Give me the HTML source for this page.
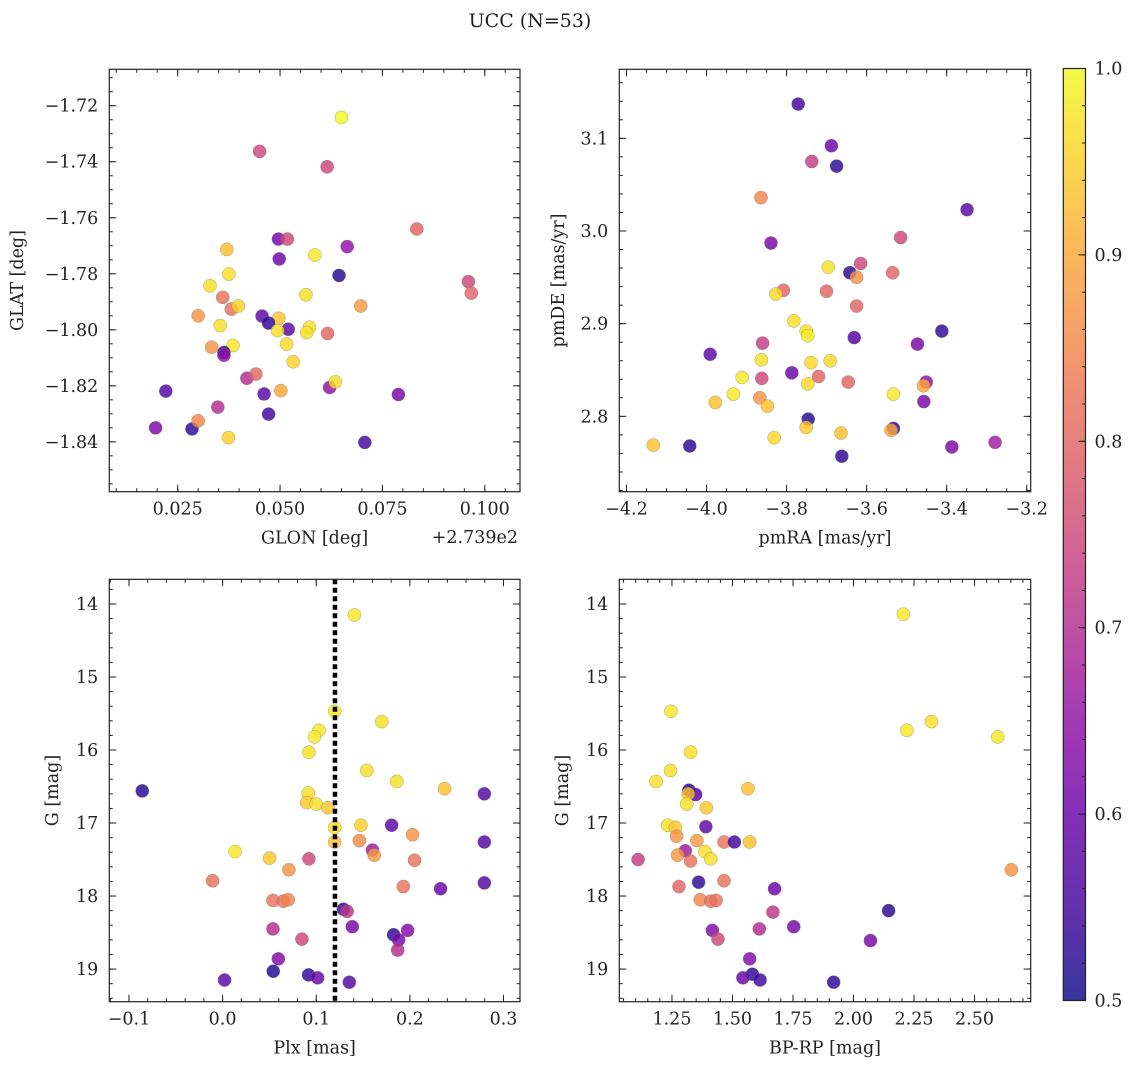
<!DOCTYPE html>
<html><head><meta charset="utf-8">
<style>
html,body{margin:0;padding:0;background:#fff;}
svg text{font-family:"DejaVu Serif","Liberation Serif",serif;fill:#222;}
</style></head>
<body>
<svg id="fig" width="1136" height="1068" viewBox="0 0 1136 1068" xmlns="http://www.w3.org/2000/svg">
<defs>
<linearGradient id="plasma" x1="0" y1="1" x2="0" y2="0">
<stop offset="0" stop-color="#0d0887"/><stop offset="0.1" stop-color="#41049d"/><stop offset="0.2" stop-color="#6a00a8"/><stop offset="0.3" stop-color="#8f0da4"/><stop offset="0.4" stop-color="#b12a90"/><stop offset="0.5" stop-color="#cc4778"/><stop offset="0.6" stop-color="#e16462"/><stop offset="0.7" stop-color="#f2844b"/><stop offset="0.8" stop-color="#fca636"/><stop offset="0.9" stop-color="#fcce25"/><stop offset="1" stop-color="#f0f921"/>
</linearGradient>
</defs>
<text x="530" y="27" text-anchor="middle" font-size="19">UCC (N=53)</text>
</svg>
<script>
// ---- Panel 1: GLON vs GLAT ----
const glonVals=[0.0650,0.0450,0.0615,0.0834,0.0496,0.0518,0.0370,0.0664,0.0585,0.0498,0.0375,0.0644,0.0329,0.0960,0.0967,0.0563,0.0360,0.0381,0.0398,0.0697,0.0300,0.0456,0.0497,0.0472,0.0354,0.0520,0.0494,0.0572,0.0565,0.0616,0.0333,0.0385,0.0516,0.0363,0.0363,0.0532,0.0419,0.0441,0.0221,0.0461,0.0502,0.0621,0.0635,0.0789,0.0348,0.0472,0.0196,0.0285,0.0300,0.0374,0.0707];
const glatVals=[-1.7242,-1.7363,-1.7418,-1.7640,-1.7676,-1.7676,-1.7713,-1.7703,-1.7733,-1.7747,-1.7801,-1.7806,-1.7843,-1.7828,-1.7869,-1.7875,-1.7884,-1.7926,-1.7915,-1.7915,-1.7950,-1.7951,-1.7959,-1.7976,-1.7985,-1.7998,-1.8003,-1.7991,-1.8010,-1.8013,-1.8062,-1.8056,-1.8051,-1.8081,-1.8091,-1.8114,-1.8173,-1.8158,-1.8219,-1.8229,-1.8217,-1.8206,-1.8186,-1.8231,-1.8276,-1.8301,-1.8350,-1.8354,-1.8325,-1.8385,-1.8402];
const p1Col=[1.0,0.75,0.75,0.8,0.62,0.75,0.93,0.65,0.98,0.6,0.97,0.52,0.97,0.75,0.8,0.97,0.82,0.82,0.95,0.88,0.87,0.58,0.93,0.53,0.97,0.58,0.97,0.97,0.97,0.8,0.87,0.98,0.96,0.52,0.65,0.95,0.7,0.8,0.57,0.58,0.9,0.65,0.97,0.62,0.7,0.55,0.62,0.53,0.85,0.95,0.55];
const p1XTicks=[0.025,0.050,0.075,0.100];
const p1XLabels=["0.025","0.050","0.075","0.100"];
const p1YTicks=[-1.72,-1.74,-1.76,-1.78,-1.80,-1.82,-1.84];
const p1YLabels=["\u22121.72","\u22121.74","\u22121.76","\u22121.78","\u22121.80","\u22121.82","\u22121.84"];
// ---- Panel 2: pmRA vs pmDE ----
const pmraVals=[-3.771,-3.688,-3.737,-3.675,-3.864,-3.349,-3.839,-3.515,-3.696,-3.615,-3.642,-3.625,-3.535,-3.808,-3.827,-3.700,-3.625,-3.782,-3.751,-3.747,-3.412,-3.631,-3.473,-3.991,-3.860,-3.863,-3.739,-3.691,-3.787,-3.720,-3.911,-3.862,-3.747,-3.646,-3.451,-3.458,-3.933,-3.533,-3.867,-3.978,-3.848,-3.457,-3.746,-3.751,-3.533,-3.539,-3.664,-3.831,-4.133,-4.042,-3.279,-3.387,-3.662];
const pmdeVals=[3.137,3.092,3.075,3.070,3.036,3.023,2.987,2.993,2.961,2.965,2.955,2.950,2.955,2.936,2.932,2.935,2.919,2.903,2.892,2.887,2.892,2.885,2.878,2.867,2.879,2.861,2.858,2.860,2.847,2.843,2.842,2.841,2.835,2.837,2.837,2.833,2.824,2.824,2.820,2.815,2.811,2.816,2.797,2.788,2.787,2.785,2.782,2.777,2.769,2.768,2.772,2.767,2.757];
const p2Col=[0.55,0.6,0.73,0.53,0.85,0.58,0.62,0.75,0.97,0.75,0.53,0.87,0.8,0.8,0.96,0.8,0.8,0.97,0.97,0.98,0.53,0.57,0.62,0.58,0.73,0.97,0.96,0.96,0.6,0.8,0.98,0.75,0.96,0.8,0.65,0.9,0.98,0.98,0.87,0.93,0.93,0.62,0.52,0.94,0.53,0.9,0.93,0.96,0.93,0.53,0.67,0.62,0.53];
const p2XTicks=[-4.2,-4.0,-3.8,-3.6,-3.4,-3.2];
const p2XLabels=["\u22124.2","\u22124.0","\u22123.8","\u22123.6","\u22123.4","\u22123.2"];
const p2YTicks=[3.1,3.0,2.9,2.8];
const p2YLabels=["3.1","3.0","2.9","2.8"];
// ---- Panel 3: Plx vs G ----
const plxVals=[0.1407,0.1197,0.170,0.103,0.098,0.0922,0.154,0.186,0.237,-0.0858,0.2795,0.0915,0.0897,0.1000,0.1125,0.1197,0.1477,0.1805,0.2029,0.2795,0.1197,0.146,0.160,0.162,0.0132,0.0502,0.0922,0.205,0.0708,-0.0107,0.2795,0.2328,0.193,0.0538,0.0648,0.0701,0.129,0.133,0.1385,0.0538,0.0847,0.1826,0.1976,0.188,0.187,0.0595,0.0541,0.0918,0.1015,0.0021,0.1353];
const gVals3=[14.15,15.47,15.61,15.73,15.82,16.03,16.28,16.43,16.53,16.56,16.60,16.59,16.72,16.74,16.79,17.06,17.03,17.03,17.16,17.26,17.26,17.24,17.37,17.44,17.39,17.48,17.49,17.51,17.64,17.79,17.82,17.90,17.87,18.06,18.07,18.05,18.18,18.21,18.42,18.45,18.59,18.53,18.47,18.60,18.74,18.86,19.03,19.08,19.12,19.15,19.18];
const p3Col=[0.98,0.98,0.97,0.98,0.98,0.97,0.97,0.97,0.93,0.52,0.57,0.97,0.94,0.97,0.94,0.97,0.95,0.58,0.87,0.57,0.93,0.86,0.67,0.88,0.98,0.94,0.75,0.82,0.87,0.82,0.57,0.6,0.82,0.82,0.82,0.85,0.53,0.72,0.62,0.7,0.75,0.53,0.63,0.62,0.7,0.63,0.52,0.53,0.6,0.58,0.57];
const plxRef=[0.12];
const p3XTicks=[-0.1,0.0,0.1,0.2,0.3];
const p3XLabels=["\u22120.1","0.0","0.1","0.2","0.3"];
const gTicks=[14,15,16,17,18,19];
const gLabels=["14","15","16","17","18","19"];
// ---- Panel 4: BP-RP vs G ----
const bprpVals=[2.206,1.246,2.322,2.220,2.596,1.327,1.244,1.184,1.564,1.320,1.348,1.317,1.311,1.392,1.232,1.264,1.390,1.269,1.353,1.465,1.508,1.571,1.305,1.386,1.410,1.273,1.110,1.327,2.652,1.465,1.360,1.279,1.674,1.367,1.410,1.432,2.145,1.667,1.753,1.611,1.417,1.440,2.070,1.571,1.582,1.543,1.614,1.918];
const gVals4=[14.14,15.47,15.61,15.73,15.82,16.03,16.28,16.43,16.53,16.55,16.61,16.60,16.74,16.79,17.03,17.06,17.05,17.18,17.24,17.26,17.26,17.26,17.38,17.39,17.49,17.44,17.50,17.52,17.64,17.79,17.81,17.87,17.90,18.05,18.07,18.06,18.20,18.22,18.42,18.45,18.47,18.59,18.61,18.86,19.07,19.12,19.15,19.18];
const p4Col=[0.98,0.98,0.97,0.98,0.98,0.97,0.97,0.97,0.93,0.52,0.57,0.93,0.97,0.94,0.97,0.94,0.58,0.87,0.88,0.82,0.55,0.93,0.67,0.97,0.97,0.88,0.73,0.82,0.87,0.82,0.53,0.8,0.6,0.85,0.82,0.82,0.53,0.72,0.62,0.7,0.63,0.75,0.62,0.63,0.53,0.6,0.55,0.53];
const p4XTicks=[1.25,1.50,1.75,2.00,2.25,2.50];
const p4XLabels=["1.25","1.50","1.75","2.00","2.25","2.50"];
// ---- Colorbar ----
const cbTicks=[0.5,0.6,0.7,0.8,0.9,1.0];
const cbLabels=["0.5","0.6","0.7","0.8","0.9","1.0"];

const NS="http://www.w3.org/2000/svg";
const svg=document.getElementById('fig');
const FS=17.5;
function mk(tag,attrs,parent){const e=document.createElementNS(NS,tag);for(const k in attrs)e.setAttribute(k,attrs[k]);(parent||svg).appendChild(e);return e;}
const stops=[[13,8,135],[65,4,157],[106,0,168],[143,13,164],[177,42,144],[204,71,120],[225,100,98],[242,132,75],[252,166,54],[252,206,37],[240,249,33]];
function plasma(v){let t=(v-0.5)/0.5;t=Math.max(0,Math.min(1,t));const f=t*10;const i=Math.min(9,Math.floor(f));const r=f-i;const a=stops[i],b=stops[i+1];return 'rgb('+a.map((c,k)=>Math.round(c+(b[k]-c)*r)).join(',')+')';}
function rng(a,b,s){const o=[];for(let v=a;v<=b+1e-9;v+=s)o.push(+v.toFixed(6));return o;}

function panel(o){
  const g=mk('g',{});
  
  
  const sx=v=>o.x0+(v-o.xmin)/(o.xmax-o.xmin)*(o.x1-o.x0);
  const sy=o.invert?(v=>o.y0+(v-o.ymin)/(o.ymax-o.ymin)*(o.y1-o.y0)):(v=>o.y1-(v-o.ymin)/(o.ymax-o.ymin)*(o.y1-o.y0));
  const pg=mk('g',{},g);
  
  
  for(let i=0;i<o.xs.length;i++){
    const c=mk('circle',{cx:sx(o.xs[i]),cy:sy(o.ys[i]),r:6.6,fill:plasma(o.cs[i]),'fill-opacity':0.82,stroke:'#777','stroke-opacity':0.6,'stroke-width':0.5},pg);
    
    
  }
  if(o.vline){for(const v of o.vline){
    const l=mk('line',{x1:sx(v),x2:sx(v),y1:o.y0,y2:o.y1,stroke:'#000','stroke-width':4.5,'stroke-dasharray':'5 3.5'},g);
    
    
  }}
  const fr=mk('rect',{x:o.x0,y:o.y0,width:o.x1-o.x0,height:o.y1-o.y0,fill:'none',stroke:'#222','stroke-width':1.2},g);
  
  
  const tk=mk('g',{stroke:'#222','stroke-width':1},g);
  const inX=v=>v>=o.xmin&&v<=o.xmax, inY=v=>v>=Math.min(o.ymin,o.ymax)&&v<=Math.max(o.ymin,o.ymax);
  for(const v of rng(o.xminorStart,o.xmax,o.xminor)){if(!inX(v))continue;const x=sx(v);mk('line',{x1:x,x2:x,y1:o.y1,y2:o.y1-3.5},tk);mk('line',{x1:x,x2:x,y1:o.y0,y2:o.y0+3.5},tk);}
  for(const v of rng(o.yminorStart,o.ymaxAbs,o.yminor)){if(!inY(v))continue;const y=sy(v);mk('line',{x1:o.x0,x2:o.x0+3.5,y1:y,y2:y},tk);mk('line',{x1:o.x1,x2:o.x1-3.5,y1:y,y2:y},tk);}
  o.xt.forEach((v,i)=>{const x=sx(v);mk('line',{x1:x,x2:x,y1:o.y1,y2:o.y1-7},tk);mk('line',{x1:x,x2:x,y1:o.y0,y2:o.y0+7},tk);
    const t=mk('text',{x:x,y:o.y1+23,'text-anchor':'middle','font-size':FS},g);t.textContent=o.xl[i];
    
    });
  o.yt.forEach((v,i)=>{const y=sy(v);mk('line',{x1:o.x0,x2:o.x0+7,y1:y,y2:y},tk);mk('line',{x1:o.x1,x2:o.x1-7,y1:y,y2:y},tk);
    const t=mk('text',{x:o.x0-11,y:y+6,'text-anchor':'end','font-size':FS},g);t.textContent=o.yl[i];
    
    });
  const xt=mk('text',{x:(o.x0+o.x1)/2,y:o.y1+52,'text-anchor':'middle','font-size':FS},g);xt.textContent=o.xtitle;
  
  
  const yt=mk('text',{x:o.ytx,y:(o.y0+o.y1)/2,'text-anchor':'middle','font-size':FS,transform:'rotate(-90 '+o.ytx+' '+((o.y0+o.y1)/2)+')'},g);yt.textContent=o.ytitle;
  
  
}
panel({name:'glon-glat-panel',x0:109.3,x1:520,y0:69.3,y1:491.7,xmin:0.0083,xmax:0.1086,ymin:-1.8578,ymax:-1.7070,
  xs:glonVals,ys:glatVals,cs:p1Col,xt:p1XTicks,xl:p1XLabels,yt:p1YTicks,yl:p1YLabels,
  xminor:0.005,xminorStart:0.01,yminor:0.005,yminorStart:-1.855,ymaxAbs:-1.707,xtitle:'GLON [deg]',ytitle:'GLAT [deg]',ytx:23});
const off=mk('text',{x:518,y:543,'text-anchor':'end','font-size':FS});off.textContent='+2.739e2';


panel({name:'pm-panel',x0:619.3,x1:1030.7,y0:69.3,y1:491.7,xmin:-4.218,xmax:-3.190,ymin:2.7187,ymax:3.1745,
  xs:pmraVals,ys:pmdeVals,cs:p2Col,xt:p2XTicks,xl:p2XLabels,yt:p2YTicks,yl:p2YLabels,
  xminor:0.05,xminorStart:-4.2,yminor:0.02,yminorStart:2.72,ymaxAbs:3.174,xtitle:'pmRA [mas/yr]',ytitle:'pmDE [mas/yr]',ytx:564});
panel({name:'plx-g-panel',x0:109.3,x1:520,y0:579.3,y1:1001.7,xmin:-0.121,xmax:0.3176,ymin:13.662,ymax:19.447,invert:true,
  xs:plxVals,ys:gVals3,cs:p3Col,xt:p3XTicks,xl:p3XLabels,yt:gTicks,yl:gLabels,vline:plxRef,
  xminor:0.02,xminorStart:-0.12,yminor:0.2,yminorStart:13.8,ymaxAbs:19.44,xtitle:'Plx [mas]',ytitle:'G [mag]',ytx:58});
panel({name:'cmd-panel',x0:619.3,x1:1030.7,y0:579.3,y1:1001.7,xmin:1.0324,xmax:2.732,ymin:13.662,ymax:19.447,invert:true,
  xs:bprpVals,ys:gVals4,cs:p4Col,xt:p4XTicks,xl:p4XLabels,yt:gTicks,yl:gLabels,
  xminor:0.05,xminorStart:1.05,yminor:0.2,yminorStart:13.8,ymaxAbs:19.44,xtitle:'BP-RP [mag]',ytitle:'G [mag]',ytx:568});
const cb=mk('g',{});


const cx0=1063.3,cx1=1085.5,cy0=68.5,cy1=1000.5;
const cys=v=>cy1-(v-0.5)/0.5*(cy1-cy0);
mk('rect',{x:cx0,y:cy0,width:cx1-cx0,height:cy1-cy0,fill:'url(#plasma)','fill-opacity':0.82},cb);
mk('rect',{x:cx0,y:cy0,width:cx1-cx0,height:cy1-cy0,fill:'none',stroke:'#222','stroke-width':1.2},cb);
for(const v of rng(0.52,0.98,0.02)){const y=cys(v);mk('line',{x1:cx1,x2:cx1-3.5,y1:y,y2:y,stroke:'#222'},cb);}
cbTicks.forEach((v,i)=>{const y=cys(v);mk('line',{x1:cx1,x2:cx1-7,y1:y,y2:y,stroke:'#222'},cb);
  const t=mk('text',{x:cx1+9,y:y+6,'font-size':FS},cb);t.textContent=cbLabels[i];
  
  });
</script>
</body></html>
